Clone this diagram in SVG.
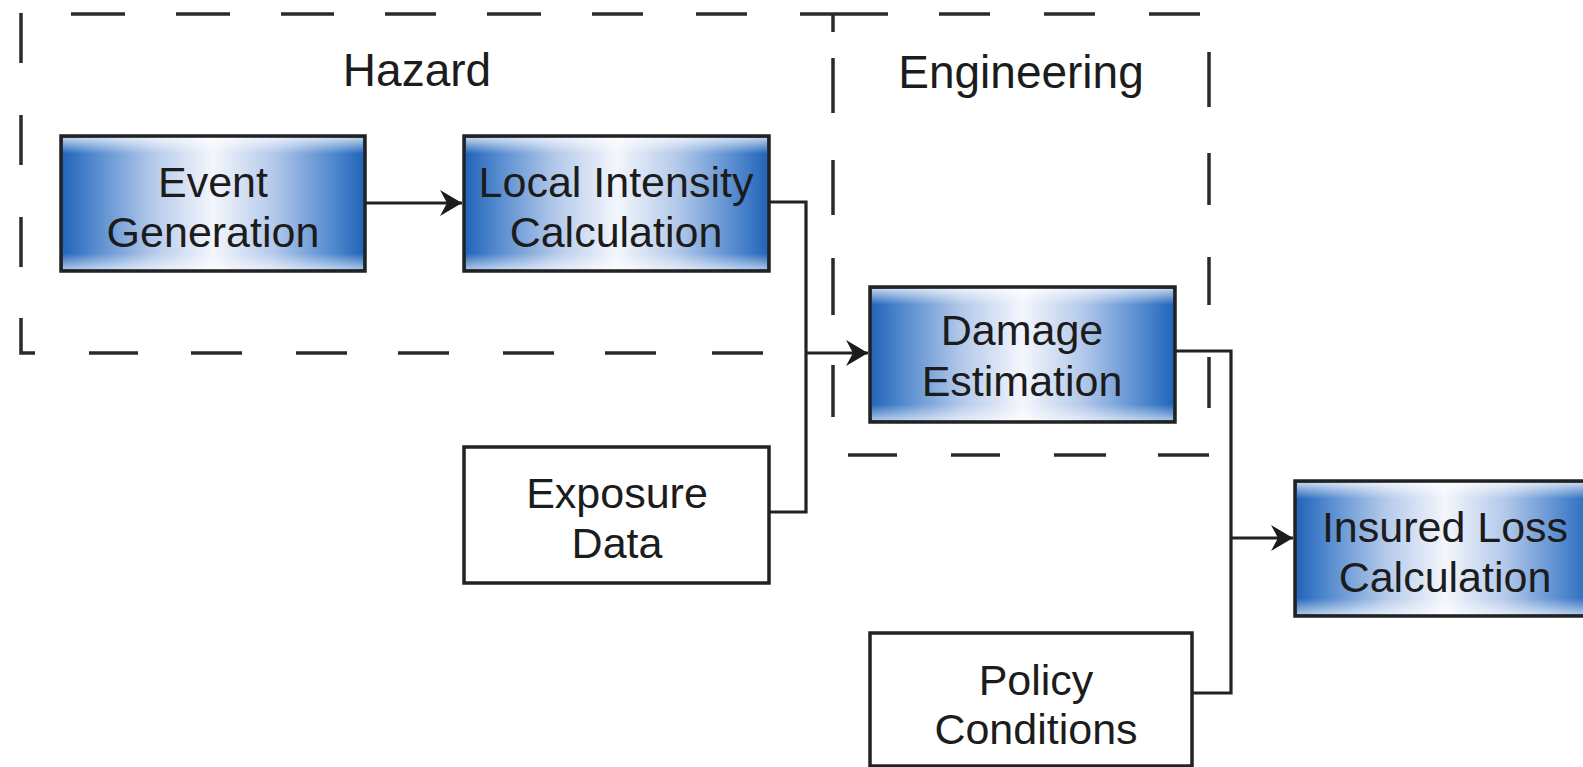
<svg xmlns="http://www.w3.org/2000/svg" width="1583" height="767" viewBox="0 0 1583 767">
<style>
.bx{stroke:#222;stroke-width:3.5}
.blue{fill:url(#g)}
.white{fill:#fff}
.t{font-family:"Liberation Sans",Arial,sans-serif;font-size:43px;fill:#1c1c1c;text-anchor:middle}
.lbl{font-family:"Liberation Sans",Arial,sans-serif;font-size:46px;fill:#1c1c1c;text-anchor:middle}
.dash{fill:none;stroke:#2a2a2a;stroke-width:3.5}
.con{fill:none;stroke:#222;stroke-width:3.2}
</style>
<defs>
<linearGradient id="g" x1="0" y1="0" x2="1" y2="0">
<stop offset="0" stop-color="#1f63b8"/>
<stop offset="0.1" stop-color="#4f87cd"/>
<stop offset="0.3" stop-color="#b3c9ea"/>
<stop offset="0.5" stop-color="#f4f6fc"/>
<stop offset="0.7" stop-color="#b3c9ea"/>
<stop offset="0.9" stop-color="#4f87cd"/>
<stop offset="1" stop-color="#1f63b8"/>
</linearGradient>
<linearGradient id="v" x1="0" y1="0" x2="0" y2="1">
<stop offset="0" stop-color="#fff" stop-opacity="0.7"/>
<stop offset="0.12" stop-color="#fff" stop-opacity="0"/>
<stop offset="0.88" stop-color="#fff" stop-opacity="0"/>
<stop offset="1" stop-color="#fff" stop-opacity="0.6"/>
</linearGradient>
<marker id="arr" markerUnits="userSpaceOnUse" markerWidth="26" markerHeight="28" refX="24" refY="14" orient="auto">
<path d="M2,1 L24,14 L2,27 L9,14 z" fill="#1c1c1c"/>
</marker>
</defs>
<rect width="1583" height="767" fill="#fff"/>
<g id="groups">
<path class="dash" d="M21,13V63M21,115V165M21,217V267M21,318V353H35M89,353H138M191,353H242M296,353H347M398,353H449M503,353H554M605,353H656M712,353H763M71,14H125M176,14H230M281,14H334M385,14H436M487,14H541M592,14H643M696,14H747M800,14H888M939,14H990M1044,14H1095M1149,14H1200M833,14V32M833,58V113M833,160V215M833,258V315M833,365V417M1209,52V107M1209,153V205M1209,257V305M1209,357V408M848,455H897M951,455H1000M1054,455H1106M1158,455H1209"/>
<text class="lbl" x="417" y="86">Hazard</text>
<text class="lbl" x="1021" y="88">Engineering</text>
</g>
<g id="connectors">
<path class="con" d="M365,203H462" marker-end="url(#arr)"/>
<path class="con" d="M769,202H806V512H769"/>
<path class="con" d="M806,353H868" marker-end="url(#arr)"/>
<path class="con" d="M1175,351H1231V693H1192"/>
<path class="con" d="M1231,538H1293" marker-end="url(#arr)"/>
</g>
<g id="event-generation">
<rect class="bx blue" x="61" y="136" width="304" height="135"/>
<rect x="63" y="138" width="300" height="131" fill="url(#v)"/>
<text class="t" x="213" y="197">Event</text>
<text class="t" x="213" y="247">Generation</text>
</g>
<g id="local-intensity">
<rect class="bx blue" x="464" y="136" width="305" height="135"/>
<rect x="466" y="138" width="301" height="131" fill="url(#v)"/>
<text class="t" x="616" y="197">Local Intensity</text>
<text class="t" x="616" y="247">Calculation</text>
</g>
<g id="damage-estimation">
<rect class="bx blue" x="870" y="287" width="305" height="135"/>
<rect x="872" y="289" width="301" height="131" fill="url(#v)"/>
<text class="t" x="1022" y="345">Damage</text>
<text class="t" x="1022" y="396">Estimation</text>
</g>
<g id="exposure-data">
<rect class="bx white" x="464" y="447" width="305" height="136"/>
<text class="t" x="617" y="508">Exposure</text>
<text class="t" x="617" y="558">Data</text>
</g>
<g id="insured-loss">
<rect class="bx blue" x="1295" y="481" width="300" height="135"/>
<rect x="1297" y="483" width="296" height="131" fill="url(#v)"/>
<text class="t" x="1445" y="542">Insured Loss</text>
<text class="t" x="1445" y="592">Calculation</text>
</g>
<g id="policy-conditions">
<rect class="bx white" x="870" y="633" width="322" height="133"/>
<text class="t" x="1036" y="695">Policy</text>
<text class="t" x="1036" y="744">Conditions</text>
</g>
</svg>
